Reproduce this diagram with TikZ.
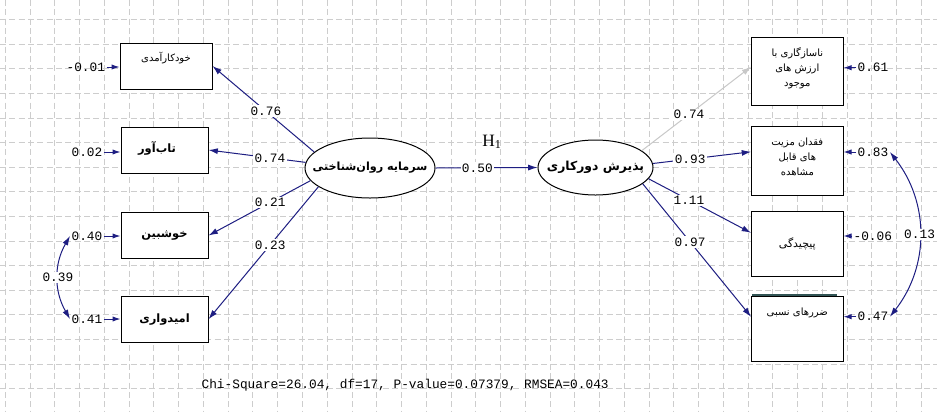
\documentclass[tikz,border=0pt]{standalone}
\usepackage{fontspec}
\usetikzlibrary{calc, arrows.meta, shapes.geometric}
\TeXXeTstate=1
\newfontfamily\farsi[Script=Arabic]{DejaVu Sans}
\newfontfamily\mono{Liberation Mono}
\newfontfamily\hfont{Liberation Serif}
\newcommand{\fa}[1]{{\farsi\beginR #1\endR}}
\definecolor{pathblue}{RGB}{30,30,130}
\definecolor{pathgray}{RGB}{200,200,200}
\definecolor{gridgray}{RGB}{205,205,205}
\definecolor{topband}{RGB}{50,85,85}
\tikzset{
  x=0.75pt, y=-0.75pt,
  >={Latex[length=7pt,width=4.5pt]},
  gridline/.style={gridgray, line width=0.5pt, dash pattern=on 4.5pt off 2.5pt},
  obsbox/.style={draw=black, fill=white, rectangle, line width=0.75pt, inner sep=0pt},
  latvar/.style={draw=black, fill=white, ellipse, line width=0.75pt, inner sep=0pt},
  loading/.style={pathblue, line width=0.75pt, ->},
  plab/.style={fill=white, inner sep=1pt, font=\mono\fontsize{9.6}{11}\selectfont, text=black},
  errnum/.style={inner sep=1pt, font=\mono\fontsize{9.6}{11}\selectfont},
  errarrow/.style={pathblue, line width=0.75pt, -{Latex[length=6pt,width=4pt]}},
  covarc/.style={pathblue, line width=0.75pt, <->},
  boldfa/.style={font=\fontsize{8.6}{11}\selectfont\bfseries},
  smallfa/.style={font=\fontsize{7.5}{11.25}\selectfont, align=center},
}

\begin{document}
\begin{tikzpicture}
%uses calc, arrows.meta, shapes.geometric
    \useasboundingbox (0,0) rectangle (937,411);
    \fill[white] (0,0) rectangle (937,411);

    %background grid
    \foreach \i in {0,...,37}
    {
        \draw[gridline] ({5.2+24.76*\i},0) -- ({5.2+24.76*\i},411);
    }
    \foreach \j in {0,...,16}
    {
        \draw[gridline] (0,{19.5+24.6*\j}) -- (937,{19.5+24.6*\j});
    }

    %left indicators
    \node[obsbox, minimum width=69pt, minimum height=34.5pt] (b1) at (166,66) {};
    \node[smallfa] (b1t) at (166,58) {\fa{خودکارآمدی}};
    \node[obsbox, minimum width=65.25pt, minimum height=34.5pt] (b2) at (164.5,150) {};
    \node[boldfa] (b2t) at (157,148) {\fa{تاب‌آور}};
    \node[obsbox, minimum width=65.25pt, minimum height=34.5pt, boldfa] (b3) at (164.5,235.5) {\fa{خوشبین}};
    \node[obsbox, minimum width=65.25pt, minimum height=34.5pt, boldfa] (b4) at (164.5,319.2) {\fa{امیدواری}};

    %latent variables
    \node[latvar, minimum width=97.5pt, minimum height=45pt] (lv) at (370,168) {};
    \node[boldfa, font=\fontsize{8.4}{11}\selectfont\bfseries] (lvt) at (lv) {\fa{سرمایه روان‌شناختی}};
    \node[latvar, minimum width=86.25pt, minimum height=41.25pt] (rv) at (595.5,167.5) {};
    \node[boldfa, font=\fontsize{9.3}{11}\selectfont\bfseries] (rvt) at (rv) {\fa{پذیرش دورکاری}};

    %right indicators
    \node[obsbox, minimum width=68.6pt, minimum height=51.4pt] (r1) at (797.3,71.7) {};
    \node[smallfa] (r1t) at (797.3,68) {\fa{ناسازگاری با}\\\fa{ارزش های}\\\fa{موجود}};
    \node[obsbox, minimum width=68.6pt, minimum height=51.4pt] (r2) at (797.3,160.8) {};
    \node[smallfa] (r2t) at (797.3,156.7) {\fa{فقدان مزیت}\\\fa{های قابل}\\\fa{مشاهده}};
    \node[obsbox, minimum width=68.6pt, minimum height=48.4pt, smallfa, font=\fontsize{8.2}{11}\selectfont] (r3) at (797.3,243.8) {\fa{پیچیدگی}};
    \node[obsbox, minimum width=68.6pt, minimum height=48.4pt] (r4) at (797.3,328.8) {};
    \node[smallfa] (r4t) at (797.3,313) {\fa{ضررهای نسبی}};
    \draw[topband, line width=1.5pt] ($(r4.north west)+(1,-1.5)$) -- ($(r4.north east)+(-7,-1.5)$);

    %structural path
    \draw[loading] (lv.east) -- node[plab, pos=0.41] (w0) {0.50} (rv.west);
    \node[font=\hfont\fontsize{13}{15}\selectfont] (h1) at (492,142) {H\textsubscript{1}};

    %loadings, left
    \draw[loading] (lv.164) -- node[plab, pos=0.475] (w1) {0.76} (b1.east);
    \draw[loading] (lv.175) -- node[plab, pos=0.368] (w2) {0.74} (b2.east);
    \draw[loading] (lv.192) -- node[plab, pos=0.395] (w3) {0.21} (b3.east);
    \draw[loading] (lv.200) -- node[plab, pos=0.439] (w4) {0.23} (b4.east);

    %loadings, right
    \draw[loading, pathgray] (rv.20) -- node[plab, pos=0.432] (w5) {0.74} ($(r1.west)+(0,-5)$);
    \draw[loading] (rv.4) -- node[plab, pos=0.379] (w6) {0.93} ($(r2.west)+(0,-9)$);
    \draw[loading] (rv.-12) -- node[plab, pos=0.394] (w7) {1.11} ($(r3.west)+(0,-11)$);
    \draw[loading] (rv.-19) -- node[plab, pos=0.437] (w8) {0.97} ($(r4.west)+(0,-12)$);

    %error terms
    \node[errnum, anchor=west] (e1) at (65,67) {-0.01};
    \node[errnum, anchor=west] (e2) at (70,152) {0.02};
    \node[errnum, anchor=west] (e3) at (70,236) {0.40};
    \node[errnum, anchor=west] (e4) at (70,319) {0.41};
    \node[errnum, anchor=west] (f1) at (856,67.7) {0.61};
    \node[errnum, anchor=west] (f2) at (856,152) {0.83};
    \node[errnum, anchor=west] (f3) at (852,236) {-0.06};
    \node[errnum, anchor=west] (f4) at (856,316.7) {0.47};
    \foreach \e/\b in {e1/b1, e2/b2, e3/b3, e4/b4}
    {
        \draw[errarrow] (\e.east) -- (\e.east -| \b.west);
    }
    \foreach \f/\r in {f1/r1, f2/r2, f3/r3, f4/r4}
    {
        \draw[errarrow] (\f.west) -- (\f.west -| \r.east);
    }

    %error covariances
    \draw[covarc] (e3.west) to[bend right=30] node[plab] (c1) {0.39} (e4.west);
    \draw[covarc] (f2.east) to[bend left=38] node[plab] (c2) {0.13} (f4.east);

    %fit statistics
    \node[errnum, anchor=west] (fit) at (200,385) {Chi-Square=26.04, df=17, P-value=0.07379, RMSEA=0.043};
\end{tikzpicture}
\end{document}
